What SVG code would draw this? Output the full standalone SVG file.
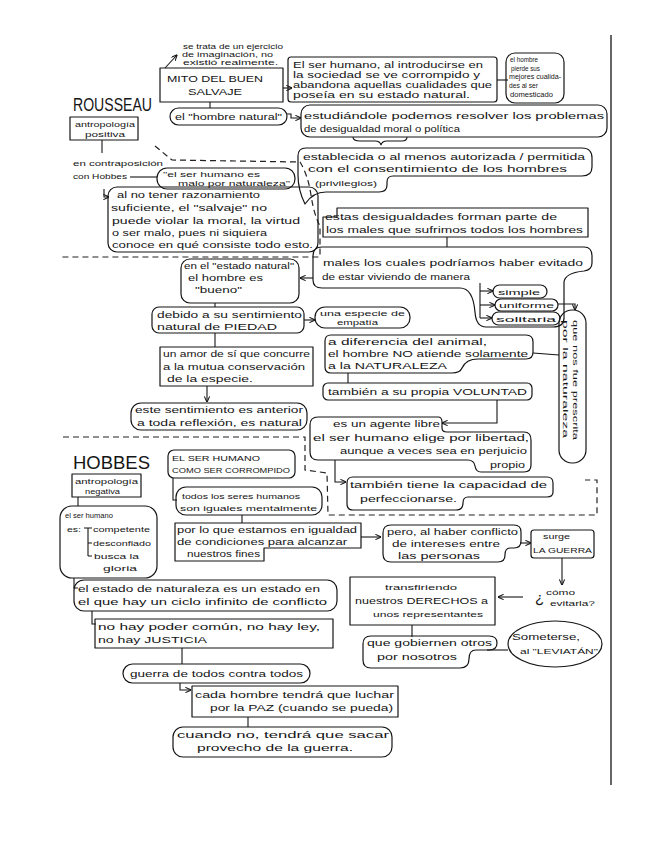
<svg xmlns="http://www.w3.org/2000/svg" width="655" height="848" viewBox="0 0 655 848">
<defs>
<style>
.b{fill:none;stroke:#151515;stroke-width:1.2;stroke-linejoin:round}
.c{fill:none;stroke:#151515;stroke-width:1.1}
.d{fill:none;stroke:#222;stroke-width:1.2;stroke-dasharray:6 4}
text{font-family:"Liberation Sans",Arial,sans-serif;font-size:9px;fill:#151515}
.s{font-size:7px}
.m{font-size:8px}
.h{font-size:18px}
</style>
<marker id="a" viewBox="0 0 8 8" refX="7.5" refY="4" markerWidth="6" markerHeight="6" markerUnits="userSpaceOnUse" orient="auto">
<path d="M0,0.5 L8,4 L0,7.5" fill="none" stroke="#151515" stroke-width="1.4"/>
</marker>
</defs>
<rect width="655" height="848" fill="#ffffff"/>
<line x1="611" y1="35" x2="611" y2="785" stroke="#151515" stroke-width="1.3"/>

<g id="dividers">
<path class="d" d="M155,146 L172,160 L300,162 Q308,175 311,195 Q314,215 320,226 L320,257 L62,257"/>
<path class="d" d="M63,437 L305,437 L305,470 L327,473 L328,515 L597,515 L597,480 L585,480"/>
</g>

<g id="connectors">
<path class="c" d="M165,68 L177,55" marker-end="url(#a)"/>
<path class="c" d="M283,88 L292,88" marker-end="url(#a)"/>
<path class="c" d="M497,80 L508,80"/>
<path class="c" d="M210,102 L210,108"/>
<path class="c" d="M287,114 L291,114 L291,118 L301,118" marker-end="url(#a)"/>
<path class="c" d="M353,137 Q353,141 360,141 H375 Q380,141 381,145 Q382,141 387,141 H402 Q407,141 407,137"/>
<path class="c" d="M102,140 L102,153"/>
<path class="c" d="M130,177 L157,177"/>
<path class="c" d="M104,189 L104,197 L109,197" marker-end="url(#a)"/>
<path class="c" d="M447,237 L447,247"/>
<path class="c" d="M313,278 L300,278" marker-end="url(#a)"/>
<path class="c" d="M215,303 L215,307"/>
<path class="c" d="M304,320 L315,320" marker-end="url(#a)"/>
<path class="c" d="M215,333 L215,347"/>
<path class="c" d="M207,386 L207,402" marker-end="url(#a)"/>
<path class="c" d="M480,283 L480,318"/>
<path class="c" d="M480,291 L493,291" marker-end="url(#a)"/>
<path class="c" d="M480,305 L495,305" marker-end="url(#a)"/>
<path class="c" d="M480,318 L492,318" marker-end="url(#a)"/>
<path class="c" d="M558,304 L575,304 L575,310" marker-end="url(#a)"/>
<path class="c" d="M533,353 L559,355"/>
<path class="c" d="M348,373 L348,383"/>
<path class="c" d="M497,400 L497,423 L442,423" marker-end="url(#a)"/>
<path class="c" d="M335,460 L335,482 L346,482" marker-end="url(#a)"/>
<path class="c" d="M78,497 L78,506"/>
<path class="c" d="M173,478 L173,500 L177,500"/>
<path class="c" d="M242,515 L242,523"/>
<path class="c" d="M361,537 L381,537" marker-end="url(#a)"/>
<path class="c" d="M520,543 L531,543" marker-end="url(#a)"/>
<path class="c" d="M562,558 L562,585" marker-end="url(#a)"/>
<path class="c" d="M523,597 L498,597" marker-end="url(#a)"/>
<path class="c" d="M412,625 L412,637"/>
<path class="c" d="M487,650 L508,650"/>
<path class="c" d="M74,578 L74,588 L78,588"/>
<path class="c" d="M92,611 L92,624 L96,624"/>
<path class="c" d="M182,648 L182,664"/>
<path class="c" d="M180,683 L180,690 L191,690" marker-end="url(#a)"/>
<path class="c" d="M248,717 L248,727"/>
</g>

<g id="se-trata">
<text class="s" x="183" y="49" textLength="100" lengthAdjust="spacingAndGlyphs">se trata de un ejercicio</text>
<text class="s" x="182" y="57" textLength="91" lengthAdjust="spacingAndGlyphs">de imaginación, no</text>
<text class="s" x="183" y="65" textLength="95" lengthAdjust="spacingAndGlyphs">existió realmente.</text>
</g>
<g id="mito">
<rect class="b" x="160" y="68" width="123" height="34"/>
<text x="167" y="82" textLength="96" lengthAdjust="spacingAndGlyphs">MITO DEL BUEN</text>
<text x="188" y="95" textLength="54" lengthAdjust="spacingAndGlyphs">SALVAJE</text>
</g>
<g id="el-ser-humano-sociedad">
<rect class="b" x="288" y="57" width="209" height="45" rx="3"/>
<text x="293" y="68" textLength="190" lengthAdjust="spacingAndGlyphs">El ser humano, al introducirse en</text>
<text x="293" y="78" textLength="187" lengthAdjust="spacingAndGlyphs">la sociedad se ve corrompido y</text>
<text x="293" y="88" textLength="199" lengthAdjust="spacingAndGlyphs">abandona aquellas cualidades que</text>
<text x="293" y="98" textLength="177" lengthAdjust="spacingAndGlyphs">poseía en su estado natural.</text>
</g>
<g id="el-hombre-pierde">
<rect class="b" x="506" y="53" width="58" height="50" rx="9"/>
<text class="s" x="510" y="62" textLength="28" lengthAdjust="spacingAndGlyphs">el hombre</text>
<text class="s" x="511" y="71" textLength="29" lengthAdjust="spacingAndGlyphs">pierde sus</text>
<text class="s" x="509" y="79" textLength="52" lengthAdjust="spacingAndGlyphs">mejores cualida-</text>
<text class="s" x="509" y="88" textLength="29" lengthAdjust="spacingAndGlyphs">des al ser</text>
<text class="s" x="510" y="97" textLength="43" lengthAdjust="spacingAndGlyphs">domesticado</text>
</g>
<g id="rousseau">
<text class="h" x="73" y="111" textLength="79" lengthAdjust="spacingAndGlyphs">ROUSSEAU</text>
</g>
<g id="antropologia-positiva">
<rect class="b" x="70" y="117" width="68" height="23"/>
<text class="m" x="75" y="127" textLength="60" lengthAdjust="spacingAndGlyphs">antropología</text>
<text class="m" x="85" y="137" textLength="40" lengthAdjust="spacingAndGlyphs">positiva</text>
</g>
<g id="hombre-natural">
<rect class="b" x="170" y="108" width="117" height="17" rx="8.5"/>
<text x="175" y="120" textLength="107" lengthAdjust="spacingAndGlyphs">el "hombre natural"</text>
</g>
<g id="estudiandole">
<rect class="b" x="301" y="105" width="306" height="32" rx="9"/>
<text x="304" y="119" textLength="300" lengthAdjust="spacingAndGlyphs">estudiándole podemos resolver los problemas</text>
<text x="304" y="132" textLength="156" lengthAdjust="spacingAndGlyphs">de desigualdad moral o política</text>
</g>
<g id="establecida">
<path class="b" d="M306,148 H582 Q592,148 592,158 V167 Q592,176 582,176 H393 Q387,176 387,182 V185 Q387,192 379,192 H326 Q313,192 305,204 Q298,190 298,175 V156 Q298,148 306,148 Z"/>
<text x="303" y="160" textLength="282" lengthAdjust="spacingAndGlyphs">establecida o al menos autorizada / permitida</text>
<text x="308" y="172" textLength="259" lengthAdjust="spacingAndGlyphs">con el consentimiento de los hombres</text>
<text class="m" x="315" y="186" textLength="62" lengthAdjust="spacingAndGlyphs">(privilegios)</text>
</g>
<g id="contraposicion">
<text class="m" x="73" y="166" textLength="90" lengthAdjust="spacingAndGlyphs">en contraposición</text>
<text class="m" x="73" y="179" textLength="54" lengthAdjust="spacingAndGlyphs">con Hobbes</text>
</g>
<g id="malo-por-naturaleza">
<rect class="b" x="157" y="168" width="138" height="21" rx="10"/>
<text class="m" x="163" y="177" textLength="97" lengthAdjust="spacingAndGlyphs">"el ser humano es</text>
<text class="m" x="178" y="186" textLength="112" lengthAdjust="spacingAndGlyphs">malo por naturaleza"</text>
</g>
<g id="al-no-tener">
<rect class="b" x="108" y="187" width="210" height="65" rx="9"/>
<text x="117" y="198" textLength="143" lengthAdjust="spacingAndGlyphs">al no tener razonamiento</text>
<text x="111" y="211" textLength="156" lengthAdjust="spacingAndGlyphs">suficiente, el "salvaje" no</text>
<text x="112" y="224" textLength="188" lengthAdjust="spacingAndGlyphs">puede violar la moral, la virtud</text>
<text x="112" y="236" textLength="155" lengthAdjust="spacingAndGlyphs">o ser malo, pues ni siquiera</text>
<text x="112" y="248" textLength="201" lengthAdjust="spacingAndGlyphs">conoce en qué consiste todo esto.</text>
</g>
<g id="estas-desigualdades">
<path class="b" d="M337,208 H588 V237 H323 V217 H337 Z"/>
<text x="325" y="220" textLength="232" lengthAdjust="spacingAndGlyphs">estas desigualdades forman parte de</text>
<text x="326" y="233" textLength="257" lengthAdjust="spacingAndGlyphs">los males que sufrimos todos los hombres</text>
</g>
<g id="males">
<path class="b" d="M322,247 H584 Q592,247 592,256 V263 Q592,270 584,271 Q564,273 564,283 V318 Q564,327 553,327 H486 Q476,327 475,312 Q473,288 460,288 H322 Q313,288 313,280 V256 Q313,247 322,247 Z"/>
<text x="323" y="266" textLength="260" lengthAdjust="spacingAndGlyphs">males los cuales podríamos haber evitado</text>
<text x="322" y="280" textLength="148" lengthAdjust="spacingAndGlyphs">de estar viviendo de manera</text>
</g>
<g id="simple">
<rect class="b" x="493" y="285" width="54" height="13" rx="6.5"/>
<text class="m" x="498" y="294.5" textLength="42" lengthAdjust="spacingAndGlyphs">simple</text>
</g>
<g id="uniforme">
<rect class="b" x="495" y="299" width="63" height="12" rx="6"/>
<text class="m" x="499" y="308" textLength="55" lengthAdjust="spacingAndGlyphs">uniforme</text>
</g>
<g id="solitaria">
<rect class="b" x="492" y="312" width="68" height="13" rx="6.5"/>
<text class="m" x="496" y="321.5" textLength="60" lengthAdjust="spacingAndGlyphs">solitaria</text>
</g>
<g id="prescrita">
<rect class="b" x="559" y="310" width="27" height="153" rx="13"/>
<text class="m" transform="translate(573,320) rotate(90)" textLength="120" lengthAdjust="spacingAndGlyphs">que nos fue prescrita</text>
<text class="m" transform="translate(563,320) rotate(90)" textLength="118" lengthAdjust="spacingAndGlyphs">por la naturaleza</text>
</g>
<g id="estado-natural">
<rect class="b" x="181" y="259" width="118" height="44" rx="9"/>
<text x="184" y="269" textLength="110" lengthAdjust="spacingAndGlyphs">en el "estado natural"</text>
<text x="188" y="281" textLength="75" lengthAdjust="spacingAndGlyphs">el hombre es</text>
<text x="195" y="293" textLength="47" lengthAdjust="spacingAndGlyphs">"bueno"</text>
</g>
<g id="piedad">
<rect class="b" x="152" y="307" width="152" height="26" rx="7"/>
<text x="157" y="318" textLength="145" lengthAdjust="spacingAndGlyphs">debido a su sentimiento</text>
<text x="157" y="330" textLength="120" lengthAdjust="spacingAndGlyphs">natural de PIEDAD</text>
</g>
<g id="empatia">
<rect class="b" x="315" y="307" width="95" height="21" rx="10"/>
<text class="m" x="320" y="316" textLength="85" lengthAdjust="spacingAndGlyphs">una especie de</text>
<text class="m" x="337" y="325" textLength="41" lengthAdjust="spacingAndGlyphs">empatía</text>
</g>
<g id="amor-de-si">
<rect class="b" x="160" y="347" width="153" height="39"/>
<text x="163" y="357" textLength="147" lengthAdjust="spacingAndGlyphs">un amor de sí que concurre</text>
<text x="163" y="370" textLength="142" lengthAdjust="spacingAndGlyphs">a la mutua conservación</text>
<text x="167" y="382" textLength="86" lengthAdjust="spacingAndGlyphs">de la especie.</text>
</g>
<g id="anterior-reflexion">
<rect class="b" x="131" y="403" width="176" height="27" rx="10"/>
<text x="135" y="413" textLength="168" lengthAdjust="spacingAndGlyphs">este sentimiento es anterior</text>
<text x="137" y="426" textLength="165" lengthAdjust="spacingAndGlyphs">a toda reflexión, es natural</text>
</g>
<g id="a-diferencia">
<path class="b" d="M331,335 H526 Q533,335 533,342 V352 Q533,359 526,359 H478 Q466,359 462,368 Q460,373 452,373 H331 Q325,373 325,367 V341 Q325,335 331,335 Z"/>
<text x="328" y="345" textLength="159" lengthAdjust="spacingAndGlyphs">a diferencia del animal,</text>
<text x="328" y="357" textLength="200" lengthAdjust="spacingAndGlyphs">el hombre NO atiende solamente</text>
<text x="328" y="369" textLength="119" lengthAdjust="spacingAndGlyphs">a la NATURALEZA</text>
</g>
<g id="voluntad">
<rect class="b" x="323" y="383" width="209" height="17" rx="5"/>
<text x="328" y="395" textLength="199" lengthAdjust="spacingAndGlyphs">también a su propia VOLUNTAD</text>
</g>
<g id="agente-libre">
<path class="b" d="M318,417 H438 Q442,417 442,422 V428 Q442,432 447,432 H524 Q531,432 531,440 V465 Q531,472 524,472 H481 Q476,472 475,466 Q474,460 468,460 H318 Q310,460 310,452 V425 Q310,417 318,417 Z"/>
<text x="333" y="427" textLength="107" lengthAdjust="spacingAndGlyphs">es un agente libre</text>
<text x="313" y="441" textLength="216" lengthAdjust="spacingAndGlyphs">el ser humano elige por libertad,</text>
<text x="340" y="454" textLength="187" lengthAdjust="spacingAndGlyphs">aunque a veces sea en perjuicio</text>
<text x="490" y="468" textLength="35" lengthAdjust="spacingAndGlyphs">propio</text>
</g>
<g id="perfeccionarse">
<path class="b" d="M353,477 H547 Q553,477 553,483 V492 Q553,497 547,497 H468 Q463,497 463,503 Q463,510 456,510 H353 Q347,510 347,504 V483 Q347,477 353,477 Z"/>
<text x="350" y="488" textLength="197" lengthAdjust="spacingAndGlyphs">también tiene la capacidad de</text>
<text x="360" y="502" textLength="97" lengthAdjust="spacingAndGlyphs">perfeccionarse.</text>
</g>

<g id="hobbes">
<text class="h" x="73" y="469" textLength="77" lengthAdjust="spacingAndGlyphs">HOBBES</text>
</g>
<g id="antropologia-negativa">
<rect class="b" x="72" y="474" width="69" height="23"/>
<text class="m" x="75" y="484" textLength="63" lengthAdjust="spacingAndGlyphs">antropología</text>
<text class="m" x="85" y="494" textLength="35" lengthAdjust="spacingAndGlyphs">negativa</text>
</g>
<g id="corrompido">
<rect class="b" x="168" y="450" width="127" height="28" rx="6"/>
<text class="m" x="172" y="461" textLength="88" lengthAdjust="spacingAndGlyphs">EL SER HUMANO</text>
<text class="m" x="172" y="473" textLength="118" lengthAdjust="spacingAndGlyphs">COMO SER CORROMPIDO</text>
</g>
<g id="iguales">
<rect class="b" x="176" y="487" width="146" height="28" rx="10"/>
<text class="m" x="182" y="499" textLength="118" lengthAdjust="spacingAndGlyphs">todos los seres humanos</text>
<text class="m" x="180" y="511" textLength="137" lengthAdjust="spacingAndGlyphs">son iguales mentalmente</text>
</g>
<g id="ser-humano-es">
<rect class="b" x="60" y="506" width="97" height="72" rx="12"/>
<text class="m" x="65" y="518" textLength="48" lengthAdjust="spacingAndGlyphs">el ser humano</text>
<text class="m" x="67" y="532" textLength="14" lengthAdjust="spacingAndGlyphs">es:</text>
<path class="c" d="M84,528 H92 M88,528 V556 M88,543 H92 M88,556 H92"/>
<text class="m" x="93" y="532" textLength="57" lengthAdjust="spacingAndGlyphs">competente</text>
<text class="m" x="93" y="546" textLength="58" lengthAdjust="spacingAndGlyphs">desconfiado</text>
<text class="m" x="94" y="559" textLength="45" lengthAdjust="spacingAndGlyphs">busca la</text>
<text class="m" x="103" y="571" textLength="34" lengthAdjust="spacingAndGlyphs">gloria</text>
</g>
<g id="igualdad-condiciones">
<path class="b" d="M175,523 H361 V548 H264 V561 H175 Z"/>
<text x="177" y="533" textLength="180" lengthAdjust="spacingAndGlyphs">por lo que estamos en igualdad</text>
<text x="177" y="545" textLength="170" lengthAdjust="spacingAndGlyphs">de condiciones para alcanzar</text>
<text x="187" y="557" textLength="73" lengthAdjust="spacingAndGlyphs">nuestros fines</text>
</g>
<g id="conflicto-intereses">
<path class="b" d="M391,525 H514 Q521,525 521,532 V541 Q521,548 514,548 H510 Q505,548 505,555 Q505,562 498,562 H391 Q383,562 383,554 V533 Q383,525 391,525 Z"/>
<text x="387" y="535" textLength="131" lengthAdjust="spacingAndGlyphs">pero, al haber conflicto</text>
<text x="392" y="547" textLength="108" lengthAdjust="spacingAndGlyphs">de intereses entre</text>
<text x="398" y="559" textLength="82" lengthAdjust="spacingAndGlyphs">las personas</text>
</g>
<g id="la-guerra">
<rect class="b" x="531" y="530" width="63" height="28" rx="3"/>
<text class="m" x="543" y="539" textLength="27" lengthAdjust="spacingAndGlyphs">surge</text>
<text class="m" x="533" y="553" textLength="59" lengthAdjust="spacingAndGlyphs">LA GUERRA</text>
</g>
<g id="como-evitarla">
<text x="535" y="603" style="font-size:15px">¿</text>
<text class="m" x="546" y="595" textLength="29" lengthAdjust="spacingAndGlyphs">cómo</text>
<text class="m" x="550" y="606" textLength="45" lengthAdjust="spacingAndGlyphs">evitarla?</text>
</g>
<g id="transfiriendo">
<rect class="b" x="350" y="577" width="145" height="48"/>
<text class="m" x="385" y="590" textLength="72" lengthAdjust="spacingAndGlyphs">transfiriendo</text>
<text x="355" y="604" textLength="133" lengthAdjust="spacingAndGlyphs">nuestros DERECHOS a</text>
<text class="m" x="373" y="617" textLength="110" lengthAdjust="spacingAndGlyphs">unos representantes</text>
</g>
<g id="gobiernen">
<path class="b" d="M371,636 H489 Q497,636 497,643 Q497,650 489,650 H476 Q469,650 469,659 Q469,668 460,668 H371 Q363,668 363,660 V644 Q363,636 371,636 Z"/>
<text x="367" y="646" textLength="125" lengthAdjust="spacingAndGlyphs">que gobiernen otros</text>
<text x="377" y="660" textLength="80" lengthAdjust="spacingAndGlyphs">por nosotros</text>
</g>
<g id="leviatan">
<ellipse class="b" cx="555" cy="644" rx="47" ry="23"/>
<text x="512" y="640" textLength="68" lengthAdjust="spacingAndGlyphs">Someterse,</text>
<text class="m" x="520" y="654" textLength="78" lengthAdjust="spacingAndGlyphs">al "LEVIATÁN"</text>
</g>
<g id="estado-naturaleza">
<rect class="b" x="74" y="580" width="263" height="31" rx="10"/>
<text x="78" y="592" textLength="242" lengthAdjust="spacingAndGlyphs">el estado de naturaleza es un estado en</text>
<text x="78" y="605" textLength="249" lengthAdjust="spacingAndGlyphs">el que hay un ciclo infinito de conflicto</text>
</g>
<g id="justicia">
<rect class="b" x="95" y="619" width="238" height="29"/>
<text x="98" y="630" textLength="222" lengthAdjust="spacingAndGlyphs">no hay poder común, no hay ley,</text>
<text x="98" y="643" textLength="109" lengthAdjust="spacingAndGlyphs">no hay JUSTICIA</text>
</g>
<g id="guerra-todos">
<rect class="b" x="123" y="664" width="187" height="19" rx="9.5"/>
<text x="130" y="677" textLength="173" lengthAdjust="spacingAndGlyphs">guerra de todos contra todos</text>
</g>
<g id="luchar-paz">
<rect class="b" x="192" y="686" width="206" height="31"/>
<text x="195" y="698" textLength="199" lengthAdjust="spacingAndGlyphs">cada hombre tendrá que luchar</text>
<text x="210" y="711" textLength="183" lengthAdjust="spacingAndGlyphs">por la PAZ (cuando se pueda)</text>
</g>
<g id="provecho-guerra">
<rect class="b" x="173" y="727" width="219" height="30" rx="10"/>
<text x="177" y="738" textLength="212" lengthAdjust="spacingAndGlyphs">cuando no, tendrá que sacar</text>
<text x="197" y="751" textLength="156" lengthAdjust="spacingAndGlyphs">provecho de la guerra.</text>
</g>
</svg>
